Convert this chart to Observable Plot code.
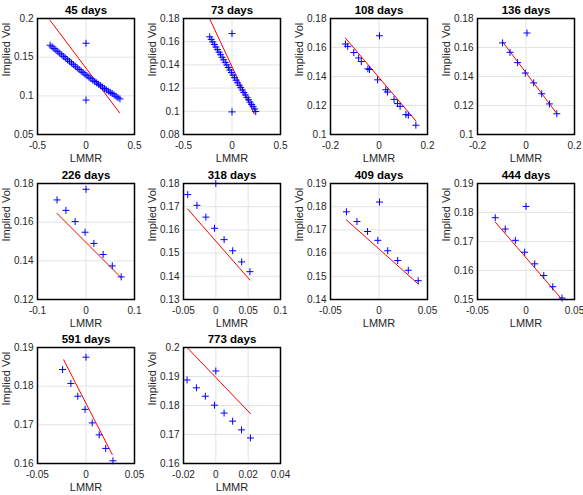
<!DOCTYPE html>
<html><head><meta charset="utf-8">
<script src="https://cdn.jsdelivr.net/npm/d3@7"></script>
<script src="https://cdn.jsdelivr.net/npm/@observablehq/plot@0.6"></script>
<style>
body{margin:0;background:#fff;overflow:hidden}
#chart{position:relative;width:583px;height:495px;font-family:"Liberation Sans",Arial,sans-serif}
#chart > svg{position:absolute;overflow:visible}
</style>
</head><body><div id="chart"></div>
<script>
// ---- titles ----
const titles = ["45 days","73 days","108 days","136 days","226 days","318 days","409 days","444 days","591 days","773 days"];

// ---- axis domains & ticks ----
const xDomains = [[-0.5,0.5],[-0.5,0.5],[-0.2,0.2],[-0.2,0.2],[-0.1,0.1],[-0.05,0.1],[-0.05,0.05],[-0.05,0.05],[-0.05,0.05],[-0.02,0.04]];
const yDomains = [[0.05,0.2],[0.08,0.18],[0.1,0.18],[0.1,0.18],[0.12,0.18],[0.13,0.18],[0.14,0.19],[0.15,0.19],[0.16,0.19],[0.16,0.2]];
const xTicks = [[-0.5,0,0.5],[-0.5,0,0.5],[-0.2,0,0.2],[-0.2,0,0.2],[-0.1,0,0.1],[-0.05,0,0.05,0.1],[-0.05,0,0.05],[-0.05,0,0.05],[-0.05,0,0.05],[-0.02,0,0.02,0.04]];
const yTicks = [[0.05,0.1,0.15,0.2],[0.08,0.1,0.12,0.14,0.16,0.18],[0.1,0.12,0.14,0.16,0.18],[0.1,0.12,0.14,0.16,0.18],[0.12,0.14,0.16,0.18],[0.13,0.14,0.15,0.16,0.17,0.18],[0.14,0.15,0.16,0.17,0.18,0.19],[0.15,0.16,0.17,0.18,0.19],[0.16,0.17,0.18,0.19],[0.16,0.17,0.18,0.19,0.2]];

// ---- observed implied vols (LMMR, vol) ----
const lmmr45 = [-0.37,-0.35,-0.33,-0.31,-0.29,-0.27,-0.25,-0.23,-0.21,-0.19,-0.17,-0.15,-0.13,-0.11,-0.09,-0.07,-0.05,-0.03,-0.01,0.01,0.03,0.05,0.07,0.09,0.11,0.13,0.15,0.17,0.19,0.21,0.23,0.25,0.27,0.29,0.31,0.33,0.35,0,0];
const vol45  = [0.1655,0.1634,0.1613,0.1592,0.1571,0.1550,0.1529,0.1508,0.1487,0.1466,0.1445,0.1424,0.1403,0.1382,0.1361,0.1340,0.1320,0.1300,0.1280,0.1260,0.1241,0.1222,0.1203,0.1185,0.1167,0.1149,0.1131,0.1113,0.1095,0.1078,0.1061,0.1045,0.1030,0.1012,0.0994,0.0975,0.0960,0.168,0.0945];
const lmmr73 = [-0.23,-0.214,-0.198,-0.182,-0.166,-0.15,-0.134,-0.118,-0.102,-0.086,-0.07,-0.054,-0.038,-0.022,-0.006,0.01,0.026,0.042,0.058,0.074,0.09,0.106,0.122,0.138,0.154,0.17,0.186,0.202,0.218,0.234,0.245,0,0];
const vol73  = [0.1642,0.1620,0.1598,0.1576,0.1554,0.1532,0.1510,0.1488,0.1466,0.1444,0.1422,0.1400,0.1378,0.1356,0.1334,0.1312,0.1290,0.1268,0.1246,0.1225,0.1204,0.1183,0.1162,0.1141,0.1120,0.1099,0.1079,0.1059,0.1040,0.1020,0.0998,0.167,0.0995];
const lmmr108 = [-0.1386,-0.129,-0.104,-0.084,-0.073,-0.0457,-0.039,-0.006,0.028,0.035,0.062,0.076,0.087,0.111,0.121,0.152,0.002];
const vol108  = [0.1624,0.1608,0.1565,0.1528,0.1503,0.1453,0.1448,0.1377,0.1309,0.1293,0.1242,0.1213,0.1194,0.1137,0.1133,0.1064,0.1681];
const lmmr136 = [-0.0966,-0.066,-0.0345,-0.0028,0.0317,0.0648,0.0966,0.127,0.004];
const vol136  = [0.1632,0.1567,0.1496,0.1424,0.1356,0.1281,0.1211,0.1143,0.170];
const lmmr226 = [-0.0597,-0.0414,-0.0224,-0.002,0.0163,0.0353,0.0542,0.0725,0];
const vol226  = [0.1715,0.1661,0.1603,0.1548,0.1490,0.1433,0.1374,0.1317,0.177];
const lmmr318 = [-0.0435,-0.0292,-0.0154,-0.002,0.0128,0.0261,0.040,0.0527,0];
const vol318  = [0.1752,0.1706,0.1655,0.1607,0.1558,0.1510,0.1462,0.1420,0.180];
const lmmr409 = [-0.0336,-0.0227,-0.0118,-0.0012,0.009,0.0193,0.0302,0.0404,0.0005];
const vol409  = [0.1778,0.1736,0.1693,0.1655,0.1610,0.1568,0.1526,0.1481,0.182];
const lmmr444 = [-0.0317,-0.0214,-0.011,-0.0014,0.009,0.0183,0.0276,0.0372,0];
const vol444  = [0.1782,0.1743,0.1704,0.1663,0.1623,0.1583,0.1544,0.1505,0.1821];
const lmmr591 = [-0.0241,-0.0156,-0.0085,-0.001,0.0064,0.0136,0.0203,0.0278,0];
const vol591  = [0.1843,0.1807,0.1774,0.1740,0.1705,0.1674,0.1639,0.1607,0.1875];
const lmmr773 = [-0.0178,-0.012,-0.0065,-0.0008,0.0051,0.0104,0.0159,0.0214,0];
const vol773  = [0.1888,0.1861,0.1832,0.1801,0.1774,0.1746,0.1716,0.1688,0.1919];

// ---- fitted lines (endpoints) ----
const fitLmmr = [[-0.373,0.346],[-0.232,0.229],[-0.1386,0.152],[-0.097,0.127],[-0.0597,0.0725],[-0.0435,0.0527],[-0.0336,0.0404],[-0.0317,0.0372],[-0.023,0.0271],[-0.0178,0.0214]];
const fitVol  = [[0.198,0.078],[0.180,0.0977],[0.1665,0.1094],[0.1640,0.1145],[0.1645,0.1313],[0.169,0.1384],[0.1743,0.1467],[0.1767,0.150],[0.1868,0.1623],[0.200,0.1772]];

const lmmrs = [lmmr45,lmmr73,lmmr108,lmmr136,lmmr226,lmmr318,lmmr409,lmmr444,lmmr591,lmmr773];
const vols  = [vol45,vol73,vol108,vol136,vol226,vol318,vol409,vol444,vol591,vol773];

const colLeft = [0,146,293,440];
const rowTop = [0,165,329];
const fmt = d => String(+d.toFixed(4));
const chart = document.getElementById("chart");

// MATLAB-style "+" marker: two strokes, half-length = r
const plusMarker = {
  draw(context, size) {
    const r = Math.sqrt(size / Math.PI);
    context.moveTo(-r, 0); context.lineTo(r, 0);
    context.moveTo(0, -r); context.lineTo(0, r);
  }
};

titles.forEach((t, i) => {
  const pts = lmmrs[i].map((x, j) => ({x, y: vols[i][j]}));
  const fit = fitLmmr[i].map((x, j) => ({x, y: fitVol[i][j]}));
  const [x0, x1] = xDomains[i];
  const [y0, y1] = yDomains[i];
  const gx = xTicks[i].filter(v => v > x0 && v < x1);
  const gy = yTicks[i].filter(v => v > y0 && v < y1);
  const p = Plot.plot({
    width: 146, height: 165,
    marginLeft: 37, marginRight: 12, marginTop: 18, marginBottom: 31,
    style: {fontFamily: '"Liberation Sans",Arial,sans-serif', fontSize: "10px", color: "#262626", background: "transparent", overflow: "visible"},
    x: {domain: xDomains[i], label: null},
    y: {domain: yDomains[i], label: null},
    marks: [
      Plot.ruleX(gx, {stroke: "#e3e3e3"}),
      Plot.ruleY(gy, {stroke: "#e3e3e3"}),
      Plot.axisX(xTicks[i], {tickSize: 0, tickPadding: 7, tickFormat: fmt, label: null}),
      Plot.axisY(yTicks[i], {tickSize: 0, tickPadding: 4, tickFormat: fmt, label: null}),
      Plot.line(fit, {x: "x", y: "y", stroke: "#ff0000", strokeWidth: 1}),
      Plot.dot(pts, {x: "x", y: "y", symbol: plusMarker, r: 3.5, fill: "none", stroke: "#0000ff", strokeWidth: 1}),
      Plot.frame({stroke: "black", strokeWidth: 1.5}),
      Plot.text([t], {text: d => d, frameAnchor: "top", lineAnchor: "middle", dy: -8.5, fontWeight: "bold", fontSize: 11.5, fill: "#000"}),
      Plot.text(["LMMR"], {text: d => d, frameAnchor: "bottom", lineAnchor: "middle", dy: 24, fontSize: 11, fill: "#262626"}),
      Plot.text(["Implied Vol"], {text: d => d, frameAnchor: "left", lineAnchor: "middle", dx: -31, rotate: -90, fontSize: 11, fill: "#262626"})
    ]
  });
  p.style.left = colLeft[i % 4] + "px";
  p.style.top = rowTop[Math.floor(i / 4)] + "px";
  chart.appendChild(p);
});
</script>
</body></html>
